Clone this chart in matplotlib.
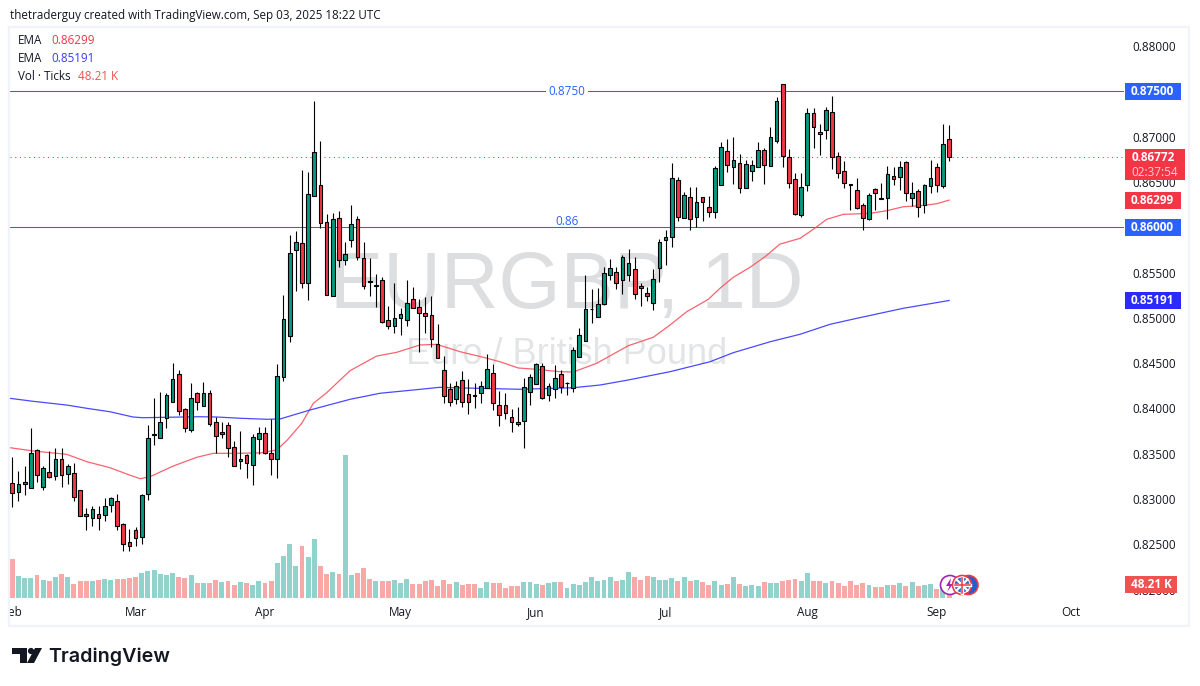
import matplotlib
matplotlib.use("Agg")
import matplotlib.pyplot as plt
from matplotlib.patches import Rectangle, Circle, Polygon
from matplotlib.transforms import Affine2D, Bbox, TransformedBbox, IdentityTransform
from matplotlib.lines import Line2D

opens = [.83172,.83080,.83168,.83124,.83536,.83135,.83293,.83256,.83437,.83275,
.83282,.83094,.82829,.82793,.82829,.82826,.82936,.82973,.82719,.82520,
.82653,.82583,.83058,.83705,.83676,.83897,.84073,.84375,.83989,.83764,
.84165,.84029,.84165,.83845,.83713,.83812,.83569,.83414,.83481,.83378,
.83657,.83724,.83503,.83437,.84349,.84802,.85751,.85821,.85380,.86347,
.86462,.86053,.85243,.86097,.85641,.85862,.86086,.85656,.85402,.85354,
.85413,.84971,.84912,.85001,.84978,.85203,.85115,.85048,.85026,.84706,
.84420,.84214,.84107,.84309,.84155,.84147,.84166,.84228,.84387,.84033,
.84033,.83901,.83846,.83857,.84184,.84273,.84464,.84151,.84210,.84376,
.84276,.84228,.84563,.84740,.85093,.85005,.85148,.85469,.85502,.85413,
.85469,.85535,.85347,.85270,.85159,.85546,.85855,.85895,.86517,.86098,
.86330,.86109,.86337,.86219,.86164,.86462,.86837,.86661,.86705,.86429,
.86617,.86661,.86849,.86672,.86948,.87577,.86771,.86528,.86131,.86462,
.87257,.87025,.87069,.87268,.86782,.86617,.86473,.86407,.86241,.86087,
.86418,.86319,.86319,.86561,.86550,.86716,.86319,.86396,.86241,.86451,
.86661,.86451,.86970]
closes = [.83069,.83161,.83183,.83503,.83267,.83337,.83245,.83437,.83267,.83359,
.83024,.82815,.82807,.82885,.82793,.82918,.83006,.82704,.82506,.82483,
.82572,.83043,.83668,.83713,.83845,.84143,.84320,.83974,.83786,.84110,
.84066,.84165,.83830,.83698,.83735,.83565,.83367,.83437,.83400,.83679,
.83724,.83503,.83444,.84353,.84982,.85711,.85832,.85387,.86362,.86826,
.86049,.85254,.86086,.85641,.85703,.86031,.85674,.85354,.85394,.85361,
.84956,.84912,.84993,.85037,.85159,.85104,.85048,.85023,.84769,.84559,
.84140,.84066,.84243,.84074,.84066,.84140,.84243,.84431,.84055,.83930,
.83945,.83853,.83824,.84232,.84342,.84486,.84118,.84243,.84331,.84239,
.84280,.84641,.84806,.85093,.85101,.85148,.85491,.85546,.85380,.85667,
.85601,.85266,.85325,.85237,.85424,.85833,.85888,.86539,.86109,.86352,
.86087,.86274,.86282,.86164,.86650,.86882,.86683,.86738,.86429,.86694,
.86683,.86849,.86683,.86992,.87389,.86782,.86484,.86142,.86440,.87257,
.87102,.87047,.87290,.86771,.86595,.86484,.86469,.86208,.86098,.86352,
.86374,.86315,.86584,.86528,.86661,.86374,.86374,.86219,.86462,.86539,
.86462,.86915,.86772]
highs = [.83459,.83308,.83363,.83779,.83547,.83359,.83525,.83562,.83562,.83381,
.83392,.83094,.82899,.82921,.82921,.83013,.83017,.83050,.82737,.82664,
.82686,.83050,.83816,.84110,.84180,.84165,.84496,.84423,.84000,.84276,
.84176,.84287,.84202,.83900,.83845,.83845,.83635,.83749,.83495,.83716,
.83790,.83790,.83878,.84489,.85251,.85913,.85957,.86631,.86605,.87393,
.86951,.86141,.86152,.86174,.85832,.86244,.86119,.85832,.85659,.85483,
.85446,.85129,.85383,.85107,.85416,.85339,.85203,.85229,.85240,.84931,
.84578,.84276,.84306,.84412,.84324,.84276,.84302,.84596,.84490,.84192,
.84166,.83989,.84019,.84331,.84376,.84497,.84497,.84276,.84475,.84420,
.84287,.84681,.84883,.85469,.85318,.85325,.85557,.85649,.85564,.85693,
.85759,.85667,.85388,.85343,.85535,.85866,.85969,.86705,.86550,.86385,
.86440,.86440,.86337,.86341,.86676,.86941,.86970,.86992,.86808,.86742,
.86742,.86937,.86871,.87106,.87434,.87581,.86860,.86595,.86595,.87312,
.87312,.87136,.87323,.87448,.86826,.86731,.86473,.86539,.86263,.86374,
.86429,.86484,.86672,.86661,.86731,.86731,.86495,.86418,.86473,.86742,
.86705,.87139,.87125]
lows = [.82914,.82977,.83043,.83124,.83190,.83098,.83230,.83208,.83131,.83164,
.82977,.82815,.82656,.82701,.82656,.82756,.82855,.82656,.82425,.82425,
.82480,.82502,.82988,.83595,.83676,.83782,.84073,.83926,.83742,.83742,
.83981,.84029,.83808,.83503,.83672,.83466,.83367,.83330,.83230,.83153,
.83495,.83495,.83264,.83230,.84305,.84736,.85299,.85328,.85196,.86347,
.85994,.85254,.85243,.85564,.85582,.85784,.85641,.85317,.85240,.85122,
.84945,.84879,.84835,.84809,.84912,.85104,.84622,.84835,.84680,.84559,
.84063,.84030,.84052,.84019,.83938,.84008,.84063,.84228,.83982,.83809,
.83886,.83735,.83805,.83566,.84037,.84265,.84107,.84081,.84111,.84173,
.84147,.84184,.84563,.84740,.84946,.85005,.85141,.85417,.85318,.85266,
.85402,.85207,.85134,.85181,.85089,.85399,.85586,.85785,.86072,.86098,
.85973,.86006,.86072,.86116,.86105,.86462,.86609,.86477,.86381,.86429,
.86510,.86661,.86481,.86672,.86926,.86668,.86429,.86135,.86116,.86403,
.86874,.86797,.86974,.86646,.86547,.86429,.86190,.86197,.85973,.86076,
.86190,.86315,.86094,.86466,.86407,.86293,.86238,.86109,.86160,.86381,
.86385,.86429,.86731]
# Tick volume, thousands
volume_k = [133,75,68,68,78,61,57,71,82,71,47,57,57,57,61,64,61,64,64,68,71,85,92,95,82,
78,85,71,68,78,51,51,51,61,54,57,44,54,51,44,57,51,57,119,144,185,109,178,140,202,
110,83,90,83,492,79,86,103,65,59,59,59,62,52,65,48,48,59,62,41,62,48,55,45,48,48,34,55,52,52,
34,41,41,55,55,48,45,52,55,55,34,48,45,55,72,59,62,72,59,62,90,72,62,76,72,62,62,69,59,72,
59,62,55,45,59,45,48,72,48,41,45,41,55,52,52,59,62,65,59,86,
59,59,52,59,52,41,59,45,52,45,38,38,45,45,52,41,55,41,45,48,31,52,48.21]
volume_red_extra = [131]

ema50_idx = [-0.38,3.40,8.82,12.07,15.85,18.56,20.72,22.34,26.12,29.92,32.61,35.85,40.19,42.90,44.62,46.95,48.84,
51.01,54.79,59.12,62.37,66.15,68.86,72.64,76.42,79.13,82.10,85.08,88.86,91.02,94.82,99.95,104.0,106.71,109.42,
112.93,114.82,116.98,119.69,122.13,124.56,127.81,129.97,132.14,134.84,139.16,141.87,144.57,147.27,149.98,152]
ema50_val = [.83566,.83530,.83493,.83412,.83345,.83276,.83224,.83246,.83364,.83460,.83504,.83504,.83508,.83541,.83651,.83835,.84056,
.84173,.84416,.84578,.84619,.84700,.84707,.84626,.84564,.84515,.84446,.84431,.84405,.84402,.84498,.84692,.84785,.84920,.85067,
.85204,.85325,.85447,.85557,.85674,.85814,.85877,.85977,.86087,.86142,.86153,.86182,.86226,.86237,.86259,.86299]
ema200_idx = [-0.38,3.40,8.82,12.07,15.85,19.58,21.2,25.05,30.45,33.16,36.94,41.27,43.43,48.30,54.79,59.66,65.06,69.39,71.5,
82.37,90.97,95.36,99.9,106.71,113.2,116.98,122.98,127.81,132.68,137.0,144.57,152]
ema200_val = [.84111,.84078,.84037,.84001,.83963,.83905,.83897,.83902,.83908,.83905,.83891,.83880,.83883,.83982,.84100,.84167,.84203,.84233,.84228,
.84211,.84228,.84258,.84313,.84405,.84515,.84615,.84736,.84818,.84928,.84994,.85105,.85191]

price_ticks = [.88,.87,.865,.855,.85,.845,.84,.835,.83,.825,.82]
month_pos = [0,20,41,63,85,106,129,150,171.8]
month_names = ["Feb","Mar","Apr","May","Jun","Jul","Aug","Sep","Oct"]
level_prices = [.875,.86]
level_names = ["0.8750","0.86"]
last_price = .86772
ema50_last, ema200_last = .86299,.85191
vol_last = "48.21 K"

UP, DOWN = "#089981", "#F23645"
VUP, VDOWN = "#92D2CC", "#F7A9A7"
BLUE = "#2962FF"
FONT = "Open Sans"
W, H = 1200, 686
plt.rcParams["font.family"] = [FONT, "DejaVu Sans"]

fig = plt.figure(figsize=(12, 6.86), dpi=100, facecolor="white")
T = Affine2D().scale(1, -1).translate(0, H)

def place(z):
    return fig.add_axes([10/W, (H-598)/H, 1114/W, 570/H], zorder=z)
axv = place(1)
ax = place(2)
ax.patch.set_visible(False)
xlim = (-0.378, 180.38)
for a in (ax, axv):
    a.set_xlim(*xlim)
    for s in a.spines.values():
        s.set_visible(False)
ax.set_ylim(.81907, .88199)
axv.set_ylim(0, 1961)
axv.set_xticks([]); axv.set_yticks([])

# watermark
axv.text(567, 288, "EURGBP, 1D", transform=T, ha="center", va="center", fontsize=57.5,
         family="Liberation Sans", color="#DDDEE0")
axv.text(567, 355, "Euro / British Pound", transform=T, ha="center", va="center", fontsize=26,
         family="Liberation Sans", color="#E3E4E6")

n = len(opens)
idx = list(range(n))
is_up = [c >= o for o, c in zip(opens, closes)]
vcol = [VDOWN if (i in volume_red_extra or not is_up[i]) else VUP for i in idx]
axv.bar(idx, volume_k, width=0.8, color=vcol, linewidth=0)

# levels
for p in level_prices:
    ax.axhline(p, color=BLUE, lw=0.75, zorder=1)
ax.axhline(last_price, color=DOWN, lw=0.75, ls=(0, (1, 3.5)), zorder=1)
ax.annotate(level_names[0], (xlim[0], level_prices[0]), xytext=(557, 0), textcoords="offset pixels", fontsize=8.5,
            color=BLUE, ha="center", va="center", annotation_clip=False, zorder=2,
            bbox=dict(boxstyle="square,pad=0.25", fc="white", ec="none"))
ax.annotate(level_names[1], (xlim[0], level_prices[1]), xytext=(557, -1), textcoords="offset pixels", fontsize=8.5,
            color=BLUE, ha="center", va="bottom", annotation_clip=False, zorder=2)

# emas under candles
ax.plot(ema50_idx, ema50_val, color="#F7525F", lw=0.9, zorder=2, alpha=.9)
ax.plot(ema200_idx, ema200_val, color="#2A2AFF", lw=0.9, zorder=2, alpha=.85)

# candles
ax.vlines(idx, lows, highs, color="black", lw=0.8, zorder=3)
bottoms = [min(o, c) for o, c in zip(opens, closes)]
heights = [abs(o - c) for o, c in zip(opens, closes)]
ax.bar(idx, heights, bottom=bottoms, width=0.6, color=[UP if u else DOWN for u in is_up],
       edgecolor="black", linewidth=0.8, zorder=4)

# axes ticks
ax.yaxis.tick_right()
ax.set_yticks(price_ticks)
ax.set_yticklabels([f"{p:.5f}" for p in price_ticks], fontsize=8.5, color="#131722")
ax.tick_params(axis="y", length=0, pad=6)
ax.set_xticks(month_pos)
ax.set_xticklabels(month_names, fontsize=8.5, color="#131722")
ax.tick_params(axis="x", length=0, pad=5.7)
for lbl in ax.get_xticklabels():
    lbl.set_clip_box(TransformedBbox(Bbox([[10, 0], [1200, H]]), IdentityTransform()))
    lbl.set_clip_on(True)

# frame
FR = "#F0F3FA"
fig.add_artist(Rectangle((9, 27), 1180, 599, transform=T, fill=False, ec=FR, lw=1.6, zorder=5))

def ypx(p):
    return H - ax.transData.transform((0, p))[1]

def tag(p, text, color, right=1181, fs=8.5):
    y = ypx(p)
    fig.add_artist(Rectangle((1125, y-8.5), right-1125, 17, transform=T, fc=color, ec="none", zorder=6))
    fig.text((1125+right)/2 - 0.5, y, text, transform=T, color="white", fontsize=fs, fontweight="bold",
             ha="center", va="center", zorder=7)

tag(level_prices[0], "0.87500", BLUE)
tag(level_prices[1], "0.86000", BLUE)
tag(ema50_last, f"{ema50_last:.5f}", DOWN)
tag(ema200_last, f"{ema200_last:.5f}", "#2A2AFF")
y0 = ypx(last_price)
fig.add_artist(Rectangle((1125, y0-8), 60, 31, transform=T, fc=DOWN, ec="none", zorder=6))
fig.text(1153, y0, f"{last_price:.5f}", transform=T, color="white", fontsize=8.5, fontweight="bold",
         ha="center", va="center", zorder=7)
fig.text(1155, y0+15, "02:37:54", transform=T, color="#FBD0D5", fontsize=8.5,
         ha="center", va="center", zorder=7)
fig.add_artist(Rectangle((1125, 576), 52, 17, transform=T, fc="#EF5350", ec="none", zorder=6))
fig.text(1151, 584.5, vol_last, transform=T, color="white", fontsize=8.5, fontweight="bold",
         ha="center", va="center", zorder=7)

# header
fig.text(10, 15, "thetraderguy created with TradingView.com, Sep 03, 2025 18:22 UTC", transform=T,
         fontsize=8.4, color="#131722", va="center")
for y, label, val, col, xv in [(41, "EMA", "0.86299", "#F23645", 51), (59, "EMA", "0.85191", "#3A3AFF", 51),
                               (76, "Vol · Ticks", "48.21 K", "#EF5350", 78)]:
    fig.text(18, y, label, transform=T, fontsize=8.4, color="#131722", va="center", zorder=7)
    fig.text(xv, y, val, transform=T, fontsize=8.4, color=col, va="center", zorder=7)

# TradingView logo
for art in [Polygon([(12, 648), (27, 648), (27, 663), (20, 663), (20, 654), (12, 654)], transform=T, fc="#131722", ec="none"),
            Circle((31, 651), 3.1, transform=T, fc="#131722", ec="none"),
            Polygon([(35, 648), (42, 648), (34, 663), (27, 663)], transform=T, fc="#131722", ec="none")]:
    fig.add_artist(art)
fig.text(48.5, 656.5, "TradingView", transform=T, fontsize=14.2, fontweight="semibold", family="Inter",
         color="#131722", va="center")

# event markers
def ring(cx, col, fc="white"):
    fig.add_artist(Circle((cx, 585), 9.5, transform=T, fc=fc, ec=col, lw=1.2, zorder=8))
ring(950, "#9C27B0")
fig.add_artist(Polygon([(951, 578), (946, 586), (949.5, 586), (947, 592), (953, 584), (950, 584)],
                       transform=T, fc="#9C27B0", ec="none", zorder=8))
ring(968.5, "#F23645", "#1F5FD0")
ring(962, "#F23645")
fig.add_artist(Circle((962, 585), 7.5, transform=T, fc="#2D62C8", ec="none", zorder=8))
for (x1, y1, x2, y2, c, w) in [(956.5, 579.5, 967.5, 590.5, "white", 1.6), (956.5, 590.5, 967.5, 579.5, "white", 1.6),
                               (954.5, 585, 969.5, 585, "white", 2.4), (962, 577.5, 962, 592.5, "white", 2.4),
                               (954.5, 585, 969.5, 585, "#F23645", 1.1), (962, 577.5, 962, 592.5, "#F23645", 1.1)]:
    fig.add_artist(Line2D([x1, x2], [y1, y2], transform=T, color=c, lw=w, zorder=9))

fig.savefig("out.png", dpi=100)
